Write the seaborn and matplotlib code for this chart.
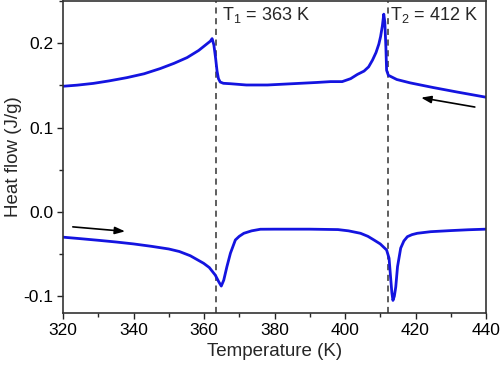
import numpy as np
import pandas as pd
import seaborn as sns
import matplotlib.pyplot as plt
from matplotlib.ticker import MultipleLocator

# Cooling curve (upper)
cool_T = [320, 324, 328.6, 333, 338.1, 343, 347.6, 351.5, 355.2, 358.5, 361.8, 362.3, 362.8, 363.3,
          363.7, 364.1, 364.6, 365.5, 367.5, 372, 378, 385, 392, 395.9, 399.2, 401.6, 403.5, 405.4,
          406.7, 407.8, 408.8, 409.6, 410.1, 410.6, 411.0, 411.3, 411.6, 411.8, 412.3, 414.7,
          418.5, 425, 432, 440]
cool_Q = [0.1490, 0.1503, 0.1524, 0.1553, 0.1592, 0.1638, 0.170, 0.1762, 0.183, 0.1915, 0.2025, 0.2055, 0.198, 0.182,
          0.167, 0.158, 0.154, 0.1525, 0.152, 0.1505, 0.1505, 0.152, 0.1535, 0.1545, 0.1545, 0.158, 0.163, 0.167,
          0.172, 0.180, 0.189, 0.199, 0.208, 0.2206, 0.2345, 0.225, 0.195, 0.168, 0.162, 0.157,
          0.153, 0.1475, 0.142, 0.136]

# Heating curve (lower)
heat_T = [320, 325, 330, 335, 340, 345, 350, 353, 356.1, 358, 359.9, 361.5, 363.2, 364.2, 364.9,
          365.6, 366.5, 367.5, 368.9, 370, 371.3, 373.5, 376, 380, 390, 398, 401, 404.4, 406.5,
          408.2, 410, 411.8, 412.5, 413.0, 413.3, 413.6, 414.0, 414.4, 414.9, 415.8, 416.7,
          417.7, 419, 420.5, 424.3, 430, 435, 440]
heat_Q = [-0.0300, -0.0318, -0.0337, -0.0357, -0.0380, -0.0408, -0.0440, -0.0470, -0.0520, -0.0565,
          -0.0610, -0.0660, -0.0750, -0.0830, -0.0880, -0.0810, -0.0650, -0.0490, -0.0333, -0.0290,
          -0.0254, -0.0225, -0.0206, -0.0205, -0.0205, -0.0210, -0.0225, -0.0254, -0.0290,
          -0.0333, -0.0380, -0.0452, -0.0550, -0.0810, -0.0960, -0.1050, -0.1000, -0.0890, -0.0650,
          -0.0430, -0.0345, -0.0294, -0.0270, -0.0254, -0.0235, -0.0222, -0.0212, -0.0205]

T1, T2 = 363.5, 412.2
labels = ["T$_1$ = 363 K", "T$_2$ = 412 K"]

sns.set_theme(style="ticks")
plt.rcParams['font.family'] = ['Liberation Sans', 'DejaVu Sans']
plt.rcParams['mathtext.fontset'] = 'custom'
plt.rcParams['mathtext.rm'] = 'Liberation Sans'
plt.rcParams['mathtext.it'] = 'Liberation Sans'

fig = plt.figure(figsize=(5, 3.67), dpi=100)
ax = fig.add_axes([0.126, 0.147, 0.846, 0.85])

cool = pd.DataFrame({"T": cool_T, "Q": cool_Q})
heat = pd.DataFrame({"T": heat_T, "Q": heat_Q})
sns.lineplot(data=cool, x="T", y="Q", ax=ax, color="#1414e0", lw=2.0, sort=False)
sns.lineplot(data=heat, x="T", y="Q", ax=ax, color="#1414e0", lw=2.0, sort=False)

for t in (T1, T2):
    ax.axvline(t, color="#333333", ls=(0, (4, 3)), lw=1.1, zorder=1)

ax.text(T1 + 1.6, 0.245, labels[0], fontsize=13, va="top", ha="left")
ax.text(T2 + 0.5, 0.245, labels[1], fontsize=13, va="top", ha="left")

ap = dict(arrowstyle="-|>,head_length=0.5,head_width=0.18", color="black", lw=1.2)
ax.annotate("", xy=(420.8, 0.136), xytext=(437.6, 0.1238), arrowprops=ap)
ax.annotate("", xy=(338.4, -0.0234), xytext=(322, -0.0175), arrowprops=ap)

ax.set_xlim(320, 440)
ax.set_ylim(-0.12, 0.25)
ax.set_xticks([320, 340, 360, 380, 400, 420, 440])
ax.set_yticks([-0.1, 0.0, 0.1, 0.2])
ax.set_yticklabels(["-0.1", "0.0", "0.1", "0.2"])
ax.xaxis.set_minor_locator(MultipleLocator(10))
ax.yaxis.set_minor_locator(MultipleLocator(0.05))
ax.tick_params(which="major", length=4, width=1, direction="out", labelsize=12.5, colors="#222222", labelcolor="black", pad=3)
ax.tick_params(which="minor", length=3, width=1, direction="out")
for s in ax.spines.values():
    s.set_linewidth(1.2)
    s.set_color("#333333")

ax.set_xlabel("Temperature (K)", fontsize=13.5, labelpad=4)
ax.set_ylabel("Heat flow (J/g)", fontsize=13.5, labelpad=1)

fig.savefig("out.png", dpi=100)
